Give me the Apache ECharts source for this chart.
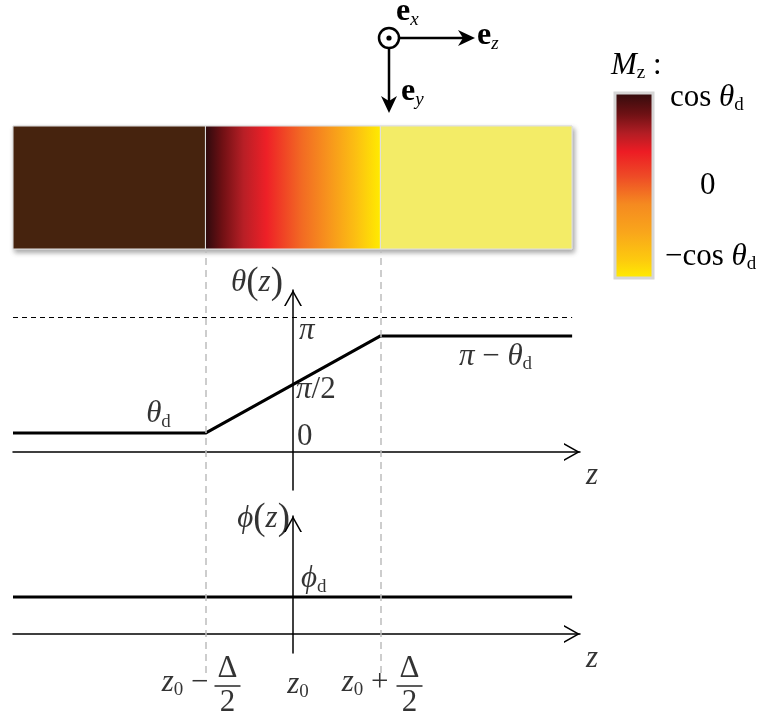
<!DOCTYPE html>
<html><head><meta charset="utf-8">
<script src="https://cdn.jsdelivr.net/npm/echarts@6/dist/echarts.min.js"></script>
<style>html,body{margin:0;padding:0;background:#fff}#c{width:760px;height:723px}</style>
</head><body><div id="c"></div>
<script>
// ---- data (z in units where z0 = 0 and Δ = 2) ----
const zMin = -3.2, zAxisEnd = 3.28, zLineEnd = 3.19;
const wallEdges = [-1, 1];                     // z0 - Δ/2, z0 + Δ/2
const thetaD = 0.44;                           // rad
const thetaPoints = [[-3.2, thetaD], [-1, thetaD], [1, Math.PI - thetaD], [3.19, Math.PI - thetaD]];
const thetaRange = [-0.884, 3.77];
const phiD = 0.86;
const phiPoints = [[-3.2, phiD], [3.19, phiD]];
const phiRange = [-0.442, 2.746];
const stripSegments = [[-3.2, -1], [-1, 1], [1, 3.19]];
const thetaTickValues = [0, Math.PI / 2, Math.PI];
const thetaTickLabels = ['{rm|0}', '{it|π}{rm|/2}', '{it|π}'];
const zTickValues = [-1, 0, 1];

// ---- styles ----
const SERIF = "'Liberation Serif','DejaVu Serif',serif";
const R = {
  it: {fontFamily: SERIF, fontStyle: 'italic', fontSize: 31, color: '#000'},
  rm: {fontFamily: SERIF, fontSize: 31, color: '#000'},
  par: {fontFamily: SERIF, fontSize: 37, color: '#000'},
  sub: {fontFamily: SERIF, fontSize: 19, color: '#000', padding: [15, 0, 0, 0]},
  frm: {fontFamily: SERIF, fontSize: 31, color: '#000', lineHeight: 28},
  bar: {backgroundColor: '#000', width: 26, height: 1.6, lineHeight: 6, fontSize: 1},
  b: {fontFamily: SERIF, fontWeight: 'bold', fontSize: 32, color: '#000'},
  sit: {fontFamily: SERIF, fontStyle: 'italic', fontSize: 19, color: '#000', padding: [15, 0, 0, 0]}
};
const wallGradient = new echarts.graphic.LinearGradient(0, 0, 1, 0, [
  {offset: 0, color: '#2A0A0D'}, {offset: 0.1, color: '#701014'}, {offset: 0.22, color: '#B81F26'},
  {offset: 0.35, color: '#EE2027'}, {offset: 0.55, color: '#F26A23'}, {offset: 0.7, color: '#F7941D'},
  {offset: 0.86, color: '#FCC012'}, {offset: 1, color: '#FFEC00'}]);
const stripFills = ['#46230E', wallGradient, '#F3EC67'];
const barGradient = new echarts.graphic.LinearGradient(0, 0, 0, 1, [
  {offset: 0, color: '#2E0B0C'}, {offset: 0.12, color: '#6E1114'}, {offset: 0.22, color: '#B11D24'},
  {offset: 0.32, color: '#ED1C24'}, {offset: 0.45, color: '#EE4A26'}, {offset: 0.6, color: '#F58A20'},
  {offset: 0.75, color: '#F9A61B'}, {offset: 0.9, color: '#FDCB0E'}, {offset: 1, color: '#FFEF00'}]);

const chevron = 'path://M9,0L9,0M9,16L18,32L16.28,32L9,19.06L1.72,32L0,32Z';

function ann(x, y, text, align, offset) {
  return {value: [x, y], label: {show: true, formatter: text, position: 'inside', align: align,
    verticalAlign: 'middle', offset: offset, color: '#000', rich: R}};
}
function plotAxis(gi, range) {
  return {gridIndex: gi, type: 'value', min: range[0], max: range[1],
    axisLine: {show: true, onZero: true, symbol: ['none', chevron], symbolSize: [18, 32],
      lineStyle: {color: '#000', width: 1.5}},
    axisTick: {show: false}, axisLabel: {show: false}, splitLine: {show: false}};
}
function hiddenAxis(gi, range) {
  return {gridIndex: gi, type: 'value', min: range[0], max: range[1], show: false};
}

const option = {
  animation: false,
  backgroundColor: '#fff',
  grid: [
    {left: 13, right: 188, top: 126, height: 123, show: true, backgroundColor: '#fff', borderColor: '#D8D8D8',
     borderWidth: 1, shadowBlur: 5, shadowColor: 'rgba(0,0,0,0.35)', shadowOffsetX: 2, shadowOffsetY: 3},
    {left: 13, right: 180, top: 290, height: 200},
    {left: 13, right: 180, top: 516, height: 137},
    {left: 13, right: 180, top: 250, height: 423}
  ],
  xAxis: [hiddenAxis(0, [zMin, zLineEnd]), plotAxis(1, [zMin, zAxisEnd]), plotAxis(2, [zMin, zAxisEnd]),
          hiddenAxis(3, [zMin, zAxisEnd])],
  yAxis: [hiddenAxis(0, [0, 1]), plotAxis(1, thetaRange), plotAxis(2, phiRange), hiddenAxis(3, [0, 1])],
  graphic: [
    // coordinate frame symbol
    {type: 'circle', shape: {cx: 389, cy: 38, r: 10}, style: {fill: '#fff', stroke: '#000', lineWidth: 2.5}},
    {type: 'circle', shape: {cx: 389, cy: 38, r: 2.6}, style: {fill: '#000'}},
    {type: 'line', shape: {x1: 399, y1: 38, x2: 464, y2: 38}, style: {stroke: '#000', lineWidth: 2.5}},
    {type: 'polygon', shape: {points: [[475, 38], [458, 30], [463, 38], [458, 46]]}, style: {fill: '#000'}},
    {type: 'line', shape: {x1: 389, y1: 48, x2: 389, y2: 102}, style: {stroke: '#000', lineWidth: 2.5}},
    {type: 'polygon', shape: {points: [[389, 113], [381, 96], [389, 101], [397, 96]]}, style: {fill: '#000'}},
    {type: 'text', left: 396, top: -4, style: {text: '{b|e}{sit|x}', rich: R}},
    {type: 'text', left: 477, top: 20, style: {text: '{b|e}{sit|z}', rich: R}},
    {type: 'text', left: 401, top: 76, style: {text: '{b|e}{sit|y}', rich: R}},
    // colour bar
    {type: 'rect', shape: {x: 615, y: 93, width: 38, height: 185},
     style: {fill: barGradient, stroke: '#D6D6D6', lineWidth: 3}},
    {type: 'text', left: 611, top: 50, style: {text: '{it|M}{sub|z}{rm| :}', rich: R}},
    {type: 'text', left: 670, top: 82, style: {text: '{rm|cos}{rm| }{it|θ}{sub|d}', rich: R}},
    {type: 'text', left: 700, top: 170, style: {text: '{rm|0}', rich: R}},
    {type: 'text', left: 665, top: 241, style: {text: '{rm|−cos}{rm| }{it|θ}{sub|d}', rich: R}}
  ],
  series: [
    {type: 'custom', xAxisIndex: 0, yAxisIndex: 0, data: stripSegments, encode: {x: [0, 1]},
     renderItem: function (params, api) {
       const a = api.coord([api.value(0), 1]);
       const b = api.coord([api.value(1), 0]);
       return {type: 'rect', shape: {x: a[0], y: a[1], width: b[0] - a[0], height: b[1] - a[1]},
         style: {fill: stripFills[params.dataIndex], stroke: '#E0E0E0', lineWidth: 1}};
     }},
    {type: 'line', xAxisIndex: 3, yAxisIndex: 3, data: [], z: 1,
     markLine: {silent: true, symbol: 'none', label: {show: false},
       lineStyle: {color: '#BDBDBD', type: [7, 5], width: 1.5},
       data: wallEdges.map(v => ({xAxis: v}))}},
    {type: 'line', xAxisIndex: 1, yAxisIndex: 1, data: thetaPoints, symbol: 'none', z: 3,
     lineStyle: {color: '#000', width: 3},
     markLine: {silent: true, symbol: 'none', label: {show: false},
       lineStyle: {color: '#000', type: [5, 4], width: 1},
       data: [[{coord: [zMin, Math.PI]}, {coord: [zLineEnd, Math.PI]}]]}},
    {type: 'line', xAxisIndex: 2, yAxisIndex: 2, data: phiPoints, symbol: 'none', z: 3,
     lineStyle: {color: '#000', width: 3}},
    {type: 'scatter', xAxisIndex: 1, yAxisIndex: 1, symbolSize: 0, z: 5,
     data: [
       ann(0, thetaRange[1], '{it|θ}{par|(}{it|z}{par|)}', 'right', [-10, -7]),
       ann(0, thetaTickValues[2], thetaTickLabels[2], 'left', [6, 14]),
       ann(0, thetaTickValues[1], thetaTickLabels[1], 'left', [3, 5]),
       ann(0, thetaTickValues[0], thetaTickLabels[0], 'left', [4, -15]),
       ann(wallEdges[0], thetaD, '{it|θ}{sub|d}', 'center', [-47, -19]),
       ann(wallEdges[1], Math.PI - thetaD, '{it|π}{rm| − }{it|θ}{sub|d}', 'center', [115, 21]),
       ann(zAxisEnd, 0, '{it|z}', 'center', [12, 24])
     ]},
    {type: 'scatter', xAxisIndex: 2, yAxisIndex: 2, symbolSize: 0, z: 5,
     data: [
       ann(0, phiRange[1], '{it|ϕ}{par|(}{it|z}{par|)}', 'right', [-3, 3]),
       ann(0, phiD, '{it|ϕ}{sub|d}', 'left', [8, -18]),
       ann(zAxisEnd, 0, '{it|z}', 'center', [12, 25])
     ]},
    {type: 'scatter', xAxisIndex: 3, yAxisIndex: 3, symbolSize: 0, z: 5,
     data: [
       ann(zTickValues[0], 0, '{it|z}{sub|0}{rm| −}', 'right', [3, 10]),
       ann(zTickValues[0], 0, '{frm|Δ}\n{bar| }\n{frm|2}', 'center', [22, 13]),
       ann(zTickValues[1], 0, '{it|z}{sub|0}', 'center', [5, 12]),
       ann(zTickValues[2], 0, '{it|z}{sub|0}{rm| +}', 'right', [8, 10]),
       ann(zTickValues[2], 0, '{frm|Δ}\n{bar| }\n{frm|2}', 'center', [29, 13])
     ]}
  ]
};
const chart = echarts.init(document.getElementById('c'), null, {renderer: 'canvas'});
chart.setOption(option);
</script></body></html>
